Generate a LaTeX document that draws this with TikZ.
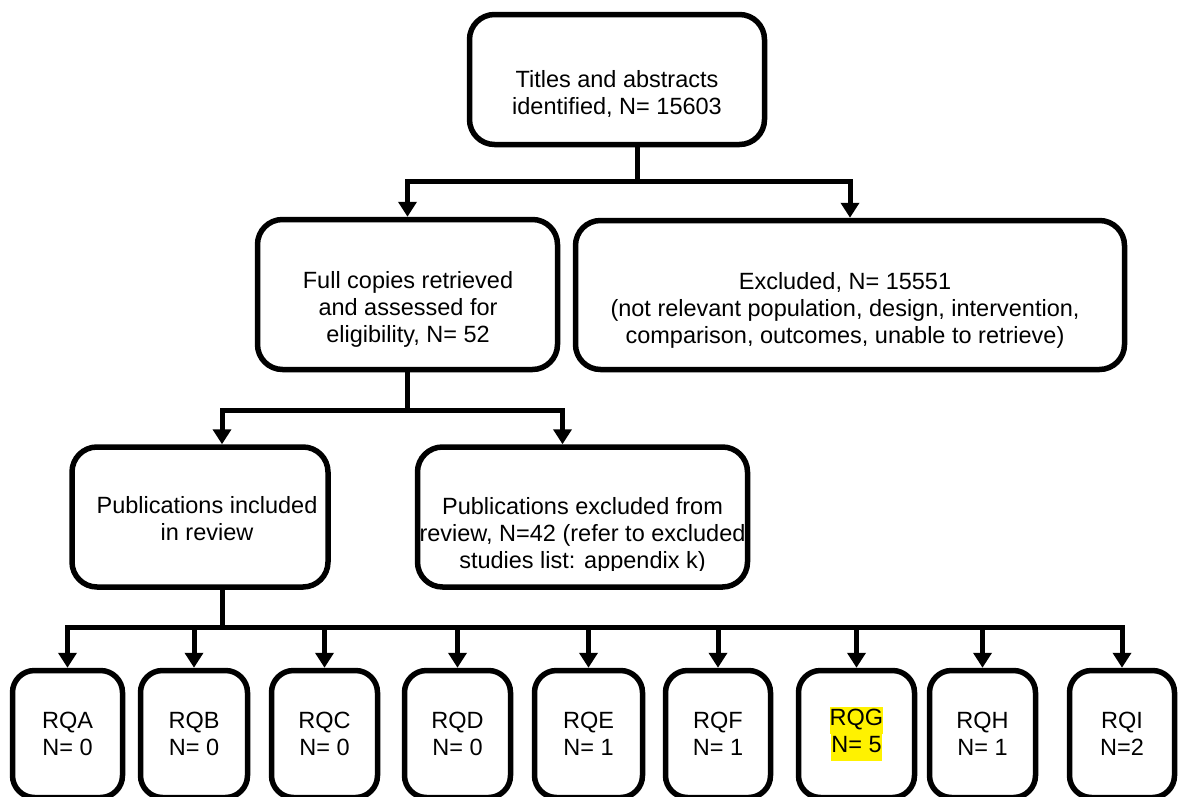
\documentclass[tikz,border=0pt]{standalone}
\usepackage{fontspec}
\setmainfont{Liberation Sans}
\usetikzlibrary{arrows.meta, positioning}

\newcommand{\hlyel}[1]{{\setlength{\fboxsep}{0pt}\colorbox{yellow}{\strut #1}}}

\begin{document}
\begin{tikzpicture}[x=1pt, y=-1pt]
    \tikzstyle{stage} = [rectangle, rounded corners=25pt, line width=5.5pt, draw=black, inner sep=0pt]
    \tikzstyle{boxtext} = [align=center, inner sep=0pt, font=\fontsize{23.5}{27}\selectfont]
    \tikzstyle{rq} = [rectangle, rounded corners=22pt, line width=5.5pt, draw=black, minimum height=127pt, inner sep=0pt, align=center, font=\fontsize{23.5}{27}\selectfont]
    \tikzstyle{arrow} = [line width=5pt, -{Triangle[width=18pt, length=15pt]}]

    \useasboundingbox (0,0) rectangle (1178,796);
    \clip (0,0) rectangle (1178,796);

    \node (top) [stage, minimum width=295pt, minimum height=130pt] at (617,79.5) {};
    \node (toptext) [boxtext] at (617,94) {Titles and abstracts\\identified, N= 15603};

    \node (full) [stage, minimum width=300pt, minimum height=150pt] at (407.5,294.5) {};
    \node (fulltext) [boxtext] at (408,309) {Full copies retrieved\\and assessed for\\eligibility, N= 52};

    \node (excl) [stage, minimum width=549pt, minimum height=149pt] at (850,295) {};
    \node (excltext) [boxtext] at (845,310.5) {Excluded, N= 15551\\(not relevant population, design, intervention,\\comparison, outcomes, unable to retrieve)};

    \node (incl) [stage, minimum width=256pt, minimum height=140pt] at (200,517) {};
    \node (incltext) [boxtext] at (207,519) {Publications included\\in review};

    \node (excl2) [stage, minimum width=330pt, minimum height=140pt] at (582.5,517) {};
    \begin{scope}
        \clip (400,450) rectangle (760,570);
        \node (excl2text) [boxtext] at (582.5,535.5) {Publications excluded from\\review, N=42 (refer to excluded\\studies list: appendix k)};
    \end{scope}

    \node (rqa) [rq, minimum width=110pt] at (67.5,734) {RQA\\N= 0};
    \node (rqb) [rq, minimum width=107pt] at (194,734) {RQB\\N= 0};
    \node (rqc) [rq, minimum width=106pt] at (324.5,734) {RQC\\N= 0};
    \node (rqd) [rq, minimum width=106pt] at (457.5,734) {RQD\\N= 0};
    \node (rqe) [rq, minimum width=108pt] at (588.5,734) {RQE\\N= 1};
    \node (rqf) [rq, minimum width=105pt] at (718,734) {RQF\\N= 1};
    \node (rqg) [rq, minimum width=116pt] at (856.5,734) {\hlyel{RQG}\\\hlyel{N= 5}};
    \node (rqh) [rq, minimum width=106pt] at (982.5,734) {RQH\\N= 1};
    \node (rqi) [rq, minimum width=105pt] at (1122,734) {RQI\\N=2};

    \draw [arrow] ([xshift=20pt]top.south) -- ++(0,34) -| (full.north);
    \draw [arrow] ([xshift=20pt]top.south) -- ++(0,34) -| (excl.north);
    \draw [arrow] (full.south) -- ++(0,38) -| ([xshift=22pt]incl.north);
    \draw [arrow] (full.south) -- ++(0,38) -| ([xshift=-20pt]excl2.north);
    \draw [arrow] ([xshift=22pt]incl.south) -- ++(0,38) -| (rqa.north);
    \draw [arrow] ([xshift=22pt]incl.south) -- ++(0,38) -| (rqb.north);
    \draw [arrow] ([xshift=22pt]incl.south) -- ++(0,38) -| (rqc.north);
    \draw [arrow] ([xshift=22pt]incl.south) -- ++(0,38) -| (rqd.north);
    \draw [arrow] ([xshift=22pt]incl.south) -- ++(0,38) -| (rqe.north);
    \draw [arrow] ([xshift=22pt]incl.south) -- ++(0,38) -| (rqf.north);
    \draw [arrow] ([xshift=22pt]incl.south) -- ++(0,38) -| (rqg.north);
    \draw [arrow] ([xshift=22pt]incl.south) -- ++(0,38) -| (rqh.north);
    \draw [arrow] ([xshift=22pt]incl.south) -- ++(0,38) -| (rqi.north);
\end{tikzpicture}
\end{document}
